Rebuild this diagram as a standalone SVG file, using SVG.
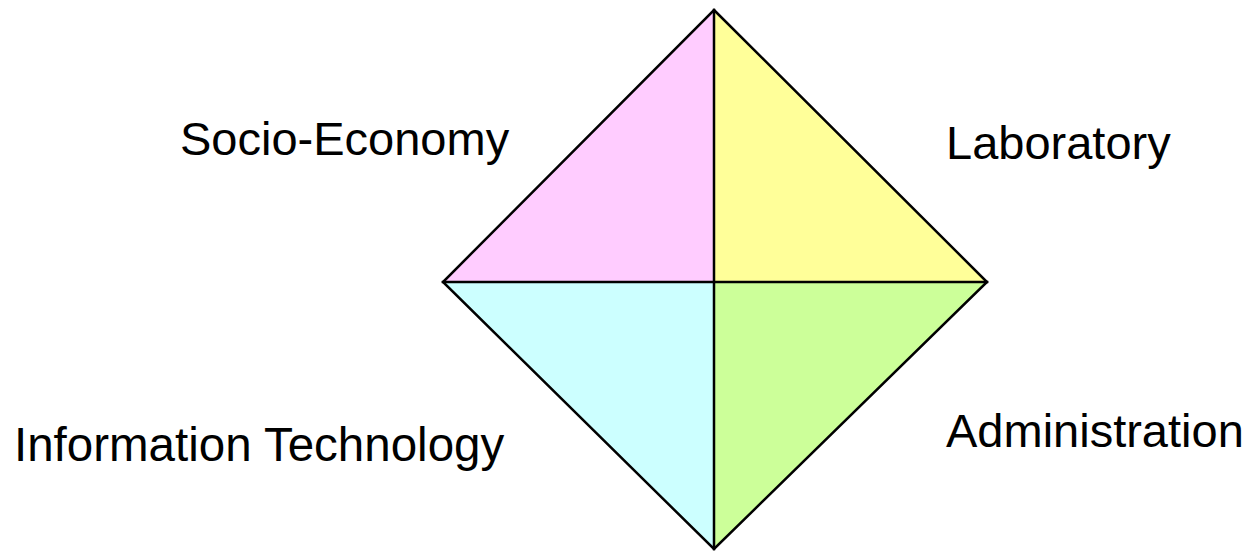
<svg xmlns="http://www.w3.org/2000/svg" width="1252" height="552" viewBox="0 0 1252 552">
<style>
.q{stroke:none}
.e{stroke:#000;stroke-width:2.5;fill:none;stroke-linecap:square}
.t{font-family:"Liberation Sans",Arial,sans-serif;font-size:47px;fill:#000}
</style>
<rect width="1252" height="552" fill="#fff"/>
<g id="socio-economy">
<polygon class="q" points="714,10 443,282 714,282" fill="#ffccff"/>
<text class="t" x="180" y="155">Socio-Economy</text>
</g>
<g id="laboratory">
<polygon class="q" points="714,10 987,282 714,282" fill="#ffff99"/>
<text class="t" x="946" y="159">Laboratory</text>
</g>
<g id="information-technology">
<polygon class="q" points="443,282 714,549 714,282" fill="#ccffff"/>
<text class="t" x="14" y="461" style="font-size:47.5px">Information Technology</text>
</g>
<g id="administration">
<polygon class="q" points="987,282 714,549 714,282" fill="#ccff99"/>
<text class="t" x="946" y="447">Administration</text>
</g>
<g id="connectors">
<polygon class="e" points="714,10 987,282 714,549 443,282"/>
<line class="e" x1="714" y1="10" x2="714" y2="549"/>
<line class="e" x1="443" y1="282" x2="987" y2="282"/>
</g>
</svg>
